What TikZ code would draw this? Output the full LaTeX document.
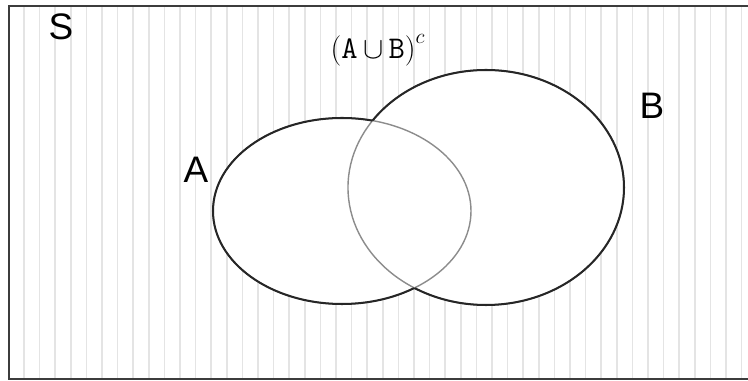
\documentclass[tikz,border=0pt]{standalone}
\usepackage{fontspec}
\setmainfont{Liberation Sans}
\definecolor{stripegray}{HTML}{E4E4E4}
\definecolor{framegray}{HTML}{3C3C3C}
\definecolor{rimdark}{HTML}{262626}
\definecolor{rimlight}{HTML}{8C8C8C}
\begin{document}
\begin{tikzpicture}[
    x=0.02cm,y=-0.02cm,
    stripe/.style={draw=stripegray,line width=1pt},
    frameline/.style={draw=framegray,line width=1.4pt},
    rim/.style={draw=rimdark,line width=1.15pt},
    inrim/.style={draw=rimlight,line width=0.8pt},
    setlabel/.style={font=\fontsize{21}{24}\selectfont,inner sep=0pt}
]
\useasboundingbox (0,0) rectangle (748,381);
\fill[white] (0,0) rectangle (748,381);

% vertical hatching of S
\foreach \i in {0,...,46}
  \draw[stripe] (24+15.6*\i,7) -- (24+15.6*\i,378);

% the two sets, blank inside
\fill[white] (342,211) ellipse [x radius=129, y radius=93];
\fill[white] (486,187.5) ellipse [x radius=138, y radius=117.5];

% rims that lie inside the other set
\draw[inrim] (342,211) ellipse [x radius=129, y radius=93];
\draw[inrim] (486,187.5) ellipse [x radius=138, y radius=117.5];

% rims outside the other set
\begin{scope}[even odd rule]
  \clip (0,0) rectangle (748,381) (486,187.5) ellipse [x radius=138, y radius=117.5];
  \draw[rim] (342,211) ellipse [x radius=129, y radius=93];
\end{scope}
\begin{scope}[even odd rule]
  \clip (0,0) rectangle (748,381) (342,211) ellipse [x radius=129, y radius=93];
  \draw[rim] (486,187.5) ellipse [x radius=138, y radius=117.5];
\end{scope}

% sample space frame
\draw[frameline] (750,6) -- (9,6) -- (9,379) -- (750,379);

\node[setlabel] (S) at (61,27) {S};
\node[setlabel] (A) at (196,170) {A};
\node[setlabel] (B) at (652,106) {B};
\node[inner sep=0pt] (comp) at (378,50)
  {\fontsize{18}{20}\selectfont$\bigl($\texttt{A}\,$\cup$\,\texttt{B}$\bigr)^{c}$};
\end{tikzpicture}
\end{document}
